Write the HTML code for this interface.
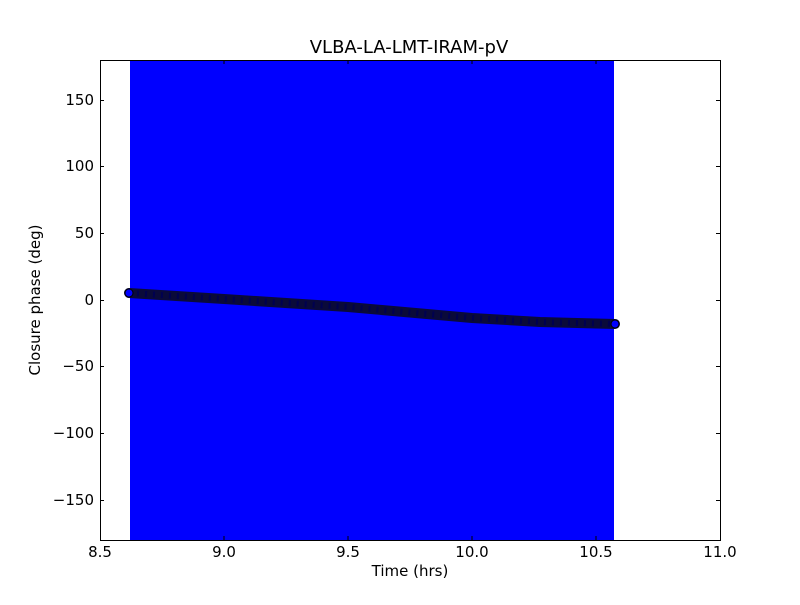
<!DOCTYPE html>
<html><head><style>body{margin:0;background:#fff}</style></head><body>
<svg width="800" height="600" xmlns="http://www.w3.org/2000/svg" font-family="DejaVu Sans, Liberation Sans, sans-serif">
<rect width="800" height="600" fill="#fff"/>
<rect x="130" y="60" width="484" height="480" fill="#0000ff"/>
<polyline points="129,293 224,299 348,307 472,318 540,322 596,323.5 615,324" fill="none" stroke="#0a0a3a" stroke-width="10" stroke-linecap="round" stroke-linejoin="round"/>
<polyline points="129,293 224,299 348,307 472,318 540,322 596,323.5 615,324" fill="none" stroke="#000050" stroke-width="6" stroke-dasharray="2 6"/>
<circle cx="129" cy="293" r="4" fill="#0000ff" stroke="#000" stroke-width="1"/>
<circle cx="615" cy="324" r="4" fill="#0000ff" stroke="#000" stroke-width="1"/>
<rect x="100.5" y="60.5" width="620" height="480" fill="none" stroke="#000" stroke-width="1"/>
<g stroke="#000" stroke-width="1">
<line x1="224" y1="540" x2="224" y2="536"/><line x1="224" y1="60" x2="224" y2="64"/>
<line x1="348" y1="540" x2="348" y2="536"/><line x1="348" y1="60" x2="348" y2="64"/>
<line x1="472" y1="540" x2="472" y2="536"/><line x1="472" y1="60" x2="472" y2="64"/>
<line x1="596" y1="540" x2="596" y2="536"/><line x1="596" y1="60" x2="596" y2="64"/>
<line x1="100" y1="100.5" x2="104" y2="100.5"/><line x1="720" y1="100.5" x2="716" y2="100.5"/>
<line x1="100" y1="166.5" x2="104" y2="166.5"/><line x1="720" y1="166.5" x2="716" y2="166.5"/>
<line x1="100" y1="233.5" x2="104" y2="233.5"/><line x1="720" y1="233.5" x2="716" y2="233.5"/>
<line x1="100" y1="300.5" x2="104" y2="300.5"/><line x1="720" y1="300.5" x2="716" y2="300.5"/>
<line x1="100" y1="366.5" x2="104" y2="366.5"/><line x1="720" y1="366.5" x2="716" y2="366.5"/>
<line x1="100" y1="433.5" x2="104" y2="433.5"/><line x1="720" y1="433.5" x2="716" y2="433.5"/>
<line x1="100" y1="500.5" x2="104" y2="500.5"/><line x1="720" y1="500.5" x2="716" y2="500.5"/>
</g>
<g font-size="15" text-anchor="middle" fill="#000">
<text x="100" y="557">8.5</text><text x="224" y="557">9.0</text><text x="348" y="557">9.5</text>
<text x="472" y="557">10.0</text><text x="596" y="557">10.5</text><text x="720" y="557">11.0</text>
</g>
<g font-size="15" text-anchor="end" fill="#000">
<text x="94" y="105">150</text><text x="94" y="171">100</text><text x="94" y="238">50</text>
<text x="94" y="305">0</text><text x="94" y="371">−50</text><text x="94" y="438">−100</text><text x="94" y="505">−150</text>
</g>
<text x="410" y="576" font-size="15" text-anchor="middle">Time (hrs)</text>
<text x="40" y="300" font-size="15" text-anchor="middle" transform="rotate(-90 40 300)">Closure phase (deg)</text>
<text x="409" y="53" font-size="18" text-anchor="middle">VLBA-LA-LMT-IRAM-pV</text>
</svg>
</body></html>
